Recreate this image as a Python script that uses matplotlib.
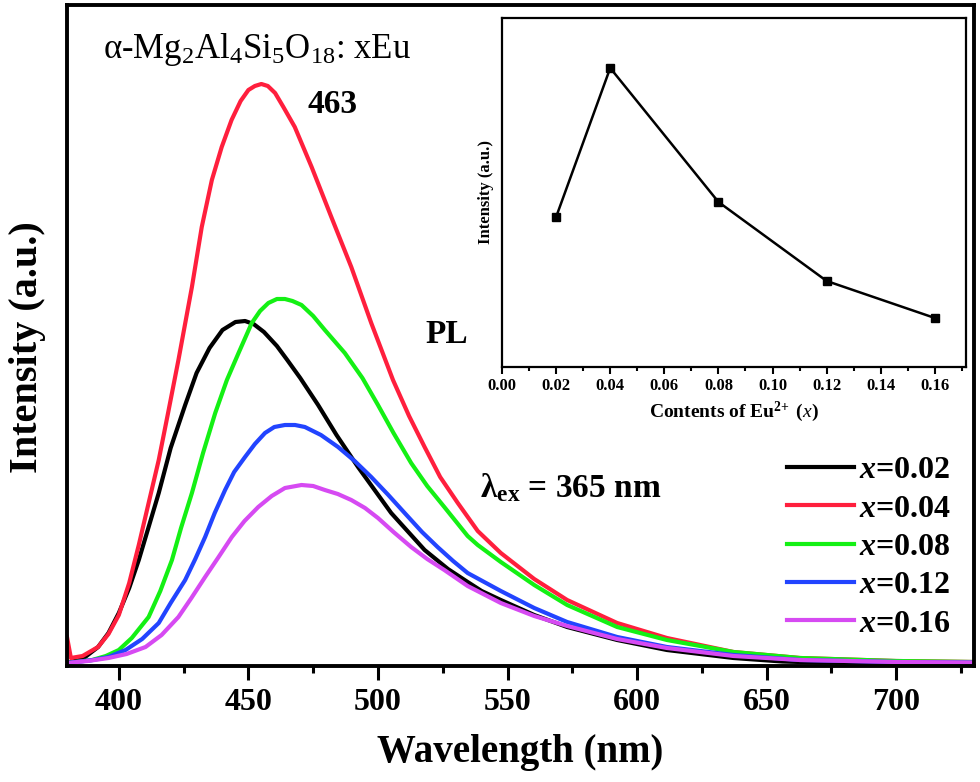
import matplotlib
matplotlib.use('Agg')
import matplotlib.pyplot as plt
import numpy as np

plt.rcParams['font.family'] = ['Liberation Serif', 'DejaVu Serif']
plt.rcParams['mathtext.fontset'] = 'custom'
plt.rcParams['mathtext.rm'] = 'Liberation Serif'
plt.rcParams['mathtext.it'] = 'Liberation Serif:italic'
plt.rcParams['mathtext.bf'] = 'Liberation Serif:bold'
plt.rcParams['mathtext.bfit'] = 'Liberation Serif:italic:bold'

# PL emission spectra (arbitrary units)
wl_002 = [380, 386, 392, 396, 400, 404, 407.7, 411.5, 415.4, 420, 425.6, 430, 435, 440, 445, 448.7, 452,
          456, 461, 465, 470, 476.9, 484, 492.3, 505.1, 518, 527, 534.6, 540, 547.4, 560.3, 573, 592.3,
          611.5, 637.2, 656, 670, 730]
pl_002 = [0, 4, 16, 30, 50, 75, 103, 136, 170, 215, 258, 290, 315, 333, 341, 342, 339,
          331, 317, 303, 285, 258, 228, 196, 150, 113, 94, 81, 72, 63, 48, 36, 23,
          13, 5, 1.5, 0.5, 0]

wl_004 = [380, 381.5, 386, 392, 396, 400, 404, 407.7, 411.5, 415.4, 419, 423, 428.2, 432, 435.9, 439.7,
          443.5, 447, 450, 452.5, 455, 457.5, 460.3, 463.5, 467.9, 474.4, 482, 489.7, 497.4, 505.8, 512,
          518, 524, 530.8, 538.5, 547.4, 560.3, 573, 592.3, 611.5, 637.2, 662.8, 700, 730]
pl_004 = [26, 5, 7, 16, 29, 48, 80, 118, 160, 203, 250, 303, 376, 436, 483, 516,
          543, 562, 573, 577, 579, 577, 570, 556, 536, 496, 446, 396, 340, 283, 247,
          216, 186, 160, 132, 110, 84, 63, 40, 25, 11, 5, 2, 1]

wl_008 = [380, 389.7, 395, 400, 405, 411.5, 416, 420.5, 424, 428.2, 432.5, 437.2, 441.7, 446.2, 451.3,
          454.5, 457.7, 461, 464.1, 467, 470.5, 475, 479.5, 487.2, 494, 500, 506, 512.8, 519, 525.6,
          534.6, 538.5, 547.4, 560.3, 573, 592.3, 611.5, 637.2, 662.8, 700, 730]
pl_008 = [0, 3, 7, 13, 25, 46, 72, 103, 135, 170, 210, 250, 283, 310, 340,
          352, 360, 364, 364, 362, 358, 347, 333, 310, 285, 258, 230, 200, 177, 156,
          127, 118, 101, 78, 58, 36, 23, 11, 5, 2, 1]

wl_012 = [380, 390, 396, 402.6, 409, 415.4, 420, 425.6, 429.5, 433.3, 437, 441, 444.5, 448.7, 452.5,
          456.4, 460, 464.1, 468, 471.8, 478, 484.6, 491, 497.4, 504, 510.3, 517, 523, 529, 534.6,
          547.4, 560.3, 573, 592.3, 611.5, 637.2, 662.8, 700, 730]
pl_012 = [0, 3, 6, 13, 24, 40, 60, 83, 104, 126, 150, 173, 191, 206, 219,
          230, 236, 238, 238, 236, 228, 216, 202, 186, 168, 150, 131, 116, 102, 90,
          72, 55, 41, 26, 16, 8, 3, 1, 0.5]

wl_016 = [380, 388, 396, 403, 410.3, 416.5, 423, 428, 433.3, 438.5, 443.6, 448.5, 453.8, 459, 464.1,
          470.5, 475, 479.5, 484.5, 489.7, 495, 500, 506, 512.8, 519, 525.6, 534.6, 547.4, 560.3, 573,
          592.3, 611.5, 637.2, 662.8, 700, 730]
pl_016 = [0, 2, 5, 9, 16, 28, 46, 65, 86, 106, 126, 142, 156, 167, 175,
          178, 177, 173, 169, 163, 155, 145, 131, 116, 104, 93, 77, 60, 47, 37,
          24, 15, 7, 3, 1, 0.5]

series_labels = ['0.02', '0.04', '0.08', '0.12', '0.16']
series_colors = ['#000000', '#ff1f3d', '#14f014', '#2244ff', '#d64af2']

# inset: integrated intensity vs Eu content
eu_content = [0.02, 0.04, 0.08, 0.12, 0.16]
eu_intensity = [150, 299, 165, 86, 49]

W, H = 980, 782
fig = plt.figure(figsize=(W / 100, H / 100), dpi=100)

ax = fig.add_axes([67 / W, 1 - 666 / H, (974 - 67) / W, (666 - 5) / H])
curves = [(wl_002, pl_002), (wl_004, pl_004), (wl_008, pl_008), (wl_012, pl_012), (wl_016, pl_016)]
for (wl, pl), lab, col in zip(curves, series_labels, series_colors):
    ax.plot(wl, pl, color=col, lw=3, solid_joinstyle='round',
            label=r'$\mathbfit{x}$=' + lab)

ax.set_xlim(380, 730)
ax.set_ylim(-3, 658)
ax.set_xticks(np.arange(400, 701, 50))
ax.set_xticks(np.arange(425, 730, 50), minor=True)
ax.set_yticks([])
ax.tick_params(axis='x', which='major', direction='out', length=10, width=2.2, labelsize=23, pad=6)
ax.tick_params(axis='x', which='minor', direction='out', length=5, width=2.2)
for lbl in ax.get_xticklabels():
    lbl.set_fontweight('bold')
for s in ax.spines.values():
    s.set_linewidth(2.8)
ax.set_xlabel('Wavelength (nm)', fontsize=28, fontweight='bold', labelpad=12)
fig.text(27 / W, 1 - 347 / H, 'Intensity (a.u.)', fontsize=29, fontweight='bold',
         rotation=90, ha='center', va='center')

fig.text(103 / W, 1 - 58 / H, r'α-Mg$_2$Al$_4$Si$_5$O$_{18}$: xEu', fontsize=25, va='baseline')
fig.text(307 / W, 1 - 113 / H, '463', fontsize=24, fontweight='bold', va='baseline')
fig.text(425 / W, 1 - 343 / H, 'PL', fontsize=24, fontweight='bold', va='baseline')
fig.text(480 / W, 1 - 497 / H, r'λ$_{\mathbf{ex}}$ = 365 nm', fontsize=24, fontweight='bold', va='baseline')

leg = ax.legend(loc='upper left', bbox_to_anchor=(787 / W, 1 - 456 / H), bbox_transform=fig.transFigure,
                frameon=False, fontsize=23, handlelength=2.1, handletextpad=0.15, labelspacing=0.28,
                borderpad=0, borderaxespad=0)
for t in leg.get_texts():
    t.set_fontweight('bold')

# inset
ins = fig.add_axes([502 / W, 1 - 367 / H, (966 - 502) / W, (367 - 18) / H])
ins.plot(eu_content, eu_intensity, color='black', lw=1.8, marker='s', ms=6)
ins.set_xlim(0, 0.1715)
ins.set_ylim(0, 349)
ins.set_xticks(np.arange(0, 0.161, 0.02))
ins.set_xticks(np.arange(0.01, 0.171, 0.02), minor=True)
ins.set_xticklabels(['%.2f' % v for v in np.arange(0, 0.161, 0.02)], fontweight='bold')
ins.set_yticks([])
ins.tick_params(axis='x', which='major', direction='out', length=5, width=1.5, labelsize=12, pad=3)
ins.tick_params(axis='x', which='minor', direction='out', length=3, width=1.5)
for s in ins.spines.values():
    s.set_linewidth(1.6)
ins.set_xlabel(r'Contents of Eu$^{\mathbf{2\!+}}$ ($\mathit{x}$)', fontsize=14, fontweight='bold', labelpad=4)
ins.set_ylabel('Intensity (a.u.)', fontsize=12, fontweight='bold', labelpad=6)

fig.savefig('out.png', dpi=100)
